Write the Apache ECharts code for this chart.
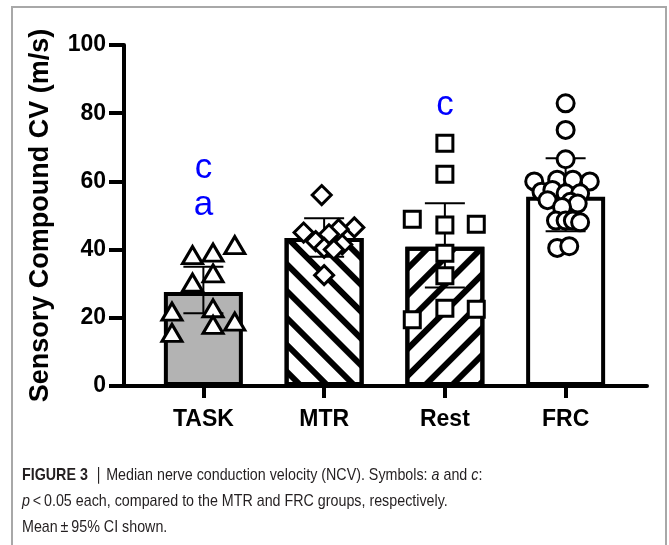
<!DOCTYPE html>
<html>
<head>
<meta charset="utf-8">
<script src="https://cdn.jsdelivr.net/npm/echarts@6/dist/echarts.min.js"></script>
<style>
  html, body { margin: 0; padding: 0; background: #fff; }
  #chart { width: 669px; height: 545px; }
</style>
</head>
<body>
<div id="chart"></div>
<script>
// groups and summary values (mean, 95% CI)
const categories = ['TASK', 'MTR', 'Rest', 'FRC'];
const means = [27.6, 43.4, 40.8, 55.5];
const ciLow = [21.3, 37.9, 28.9, 45.4];
const ciHigh = [35.0, 49.2, 53.6, 66.8];
const yTicks = [0, 20, 40, 60, 80, 100];

// individual points, jitter is in category units
const taskValues = [38.4, 39.1, 41.3, 33.0, 30.3, 21.8, 22.8, 17.9, 18.9, 15.6];
const taskJitter = [-0.09, 0.08, 0.26, 0.08, -0.09, -0.26, 0.08, 0.08, 0.26, -0.26];
const mtrValues = [56.0, 46.5, 46.0, 45.0, 44.5, 42.5, 41.5, 40.5, 40.0, 32.5];
const mtrJitter = [-0.02, 0.25, 0.12, -0.17, 0.04, -0.07, 0.15, 0.0, 0.08, 0.0];
const restValues = [71.2, 62.1, 48.9, 47.2, 47.4, 38.9, 32.3, 22.8, 22.5, 19.4];
const restJitter = [0, 0, -0.27, 0, 0.26, 0, 0, 0, 0.26, -0.27];
const frcValues = [82.9, 75.1, 66.5, 60.0, 60.5, 60.5, 60.0, 57.0, 57.5, 56.5, 56.5,
  54.5, 54.0, 53.5, 52.5, 48.5, 48.5, 48.5, 48.0, 40.5, 41.0];
const frcJitter = [0, 0, 0, -0.26, -0.07, 0.06, 0.2, -0.2, -0.11, 0, 0.12,
  -0.15, 0.04, 0.1, -0.03, -0.08, 0, 0.06, 0.12, -0.07, 0.03];

// significance letters: [category index, value, letter]
const letters = [[0, 63.9, 'c'], [0, 53.1, 'a'], [2, 82.4, 'c']];

const boldFont = '"Liberation Sans", Arial, sans-serif';

function points(vals, jit, idx) {
  return vals.map((v, i) => [idx + jit[i], v]);
}

const chart = echarts.init(document.getElementById('chart'));

const pointStyle = { color: '#fff', borderColor: '#000', borderWidth: 3, opacity: 1 };

const option = {
  animation: false,
  grid: [
    { left: 124, right: 22, top: 45, bottom: 159 },
    { left: 143, right: 43, top: 45, bottom: 159 }
  ],
  xAxis: [
    {
      gridIndex: 0, type: 'value', min: 0, max: 1,
      axisLine: { show: true, lineStyle: { color: '#000', width: 4 } },
      axisTick: { show: false }, axisLabel: { show: false }, splitLine: { show: false }
    },
    {
      gridIndex: 1, type: 'category', data: categories,
      axisLine: { show: false },
      axisTick: { show: true, alignWithLabel: true, length: 12, lineStyle: { color: '#000', width: 4 } },
      axisLabel: { color: '#000', fontSize: 23, fontWeight: 'bold', fontFamily: boldFont, margin: 22 },
      splitLine: { show: false }
    },
    {
      gridIndex: 1, type: 'value', min: -0.5, max: 3.5, show: false
    }
  ],
  yAxis: [
    {
      gridIndex: 0, type: 'value', min: 0, max: 100, interval: 20,
      name: 'Sensory Compound CV (m/s)', nameLocation: 'middle', nameGap: 70, nameRotate: 90,
      nameTextStyle: { color: '#000', fontSize: 27, fontWeight: 'bold', fontFamily: boldFont },
      axisLine: { show: true, lineStyle: { color: '#000', width: 4 } },
      axisTick: { show: true, length: 15, lineStyle: { color: '#000', width: 4 } },
      axisLabel: {
        color: '#000', fontSize: 23, fontWeight: 'bold', fontFamily: boldFont, margin: 18,
        formatter: v => (yTicks.includes(v) ? String(v) : '')
      },
      splitLine: { show: false }
    },
    { gridIndex: 1, type: 'value', min: 0, max: 100, show: false }
  ],
  series: [
    {
      type: 'bar', xAxisIndex: 1, yAxisIndex: 1, barWidth: 79, z: 2,
      data: means.map((m, i) => {
        const item = { value: m, itemStyle: { color: '#fff', borderColor: '#000', borderWidth: 4 } };
        if (i === 0) item.itemStyle.color = '#b3b3b3';
        if (i === 1 || i === 2) {
          item.itemStyle.decal = {
            symbol: 'rect', symbolSize: 1, color: '#000',
            dashArrayX: [1, 0], dashArrayY: [6, 13],
            rotation: i === 1 ? Math.PI / 4 : -Math.PI / 4
          };
        }
        return item;
      })
    },
    {
      type: 'custom', xAxisIndex: 1, yAxisIndex: 1, z: 3,
      data: categories.map((c, i) => [i, ciLow[i], ciHigh[i]]),
      encode: { x: 0, y: [1, 2] },
      renderItem(params, api) {
        const lo = api.coord([api.value(0), api.value(1)]);
        const hi = api.coord([api.value(0), api.value(2)]);
        const cap = 20;
        const style = { stroke: '#000', lineWidth: 2 };
        return {
          type: 'group',
          children: [
            { type: 'line', shape: { x1: lo[0], y1: lo[1], x2: hi[0], y2: hi[1] }, style },
            { type: 'line', shape: { x1: hi[0] - cap, y1: hi[1], x2: hi[0] + cap, y2: hi[1] }, style },
            { type: 'line', shape: { x1: lo[0] - cap, y1: lo[1], x2: lo[0] + cap, y2: lo[1] }, style }
          ]
        };
      }
    },
    {
      type: 'scatter', xAxisIndex: 2, yAxisIndex: 1, z: 4, symbol: 'triangle', symbolSize: [20, 17],
      itemStyle: pointStyle, data: points(taskValues, taskJitter, 0)
    },
    {
      type: 'scatter', xAxisIndex: 2, yAxisIndex: 1, z: 4, symbol: 'diamond', symbolSize: 19,
      itemStyle: pointStyle, data: points(mtrValues, mtrJitter, 1)
    },
    {
      type: 'scatter', xAxisIndex: 2, yAxisIndex: 1, z: 4, symbol: 'rect', symbolSize: 16,
      itemStyle: pointStyle, data: points(restValues, restJitter, 2)
    },
    {
      type: 'scatter', xAxisIndex: 2, yAxisIndex: 1, z: 4, symbol: 'circle', symbolSize: 17,
      itemStyle: pointStyle, data: points(frcValues, frcJitter, 3)
    },
    {
      type: 'scatter', xAxisIndex: 2, yAxisIndex: 1, z: 5, symbolSize: 0,
      itemStyle: { opacity: 1 },
      data: letters.map(l => ({ value: [l[0], l[1]], name: l[2] })),
      label: {
        show: true, position: 'inside', formatter: p => p.name,
        color: '#0000ff', fontSize: 35, fontFamily: 'Arial, "Liberation Sans", sans-serif'
      }
    }
  ],
  graphic: [
    {
      type: 'rect', silent: true,
      shape: { x: 12, y: 7, width: 654, height: 600 },
      style: { fill: null, stroke: '#a8a8a8', lineWidth: 2 }
    },
    {
      type: 'text', x: 22, y: 462, scaleX: 0.84,
      style: {
        text: '{b|FIGURE 3} {n| \u2223 Median nerve conduction velocity (NCV). Symbols: }{i|a}{n| and }{i|c}{n|:}\n' +
          '{i|p}{n|\u2009<\u20090.05 each, compared to the MTR and FRC groups, respectively.}\n' +
          '{n|Mean\u2009\u00b1\u200995% CI shown.}',
        fill: '#231f20',
        rich: {
          b: { fontSize: 17, fontWeight: 'bold', fontFamily: 'Arial, "Liberation Sans"', fill: '#231f20', lineHeight: 26 },
          n: { fontSize: 17, fontFamily: 'Arial, "Liberation Sans"', fill: '#231f20', lineHeight: 26 },
          i: { fontSize: 17, fontStyle: 'italic', fontFamily: 'Arial, "Liberation Sans"', fill: '#231f20', lineHeight: 26 }
        }
      }
    }
  ]
};

chart.setOption(option);
</script>
</body>
</html>
